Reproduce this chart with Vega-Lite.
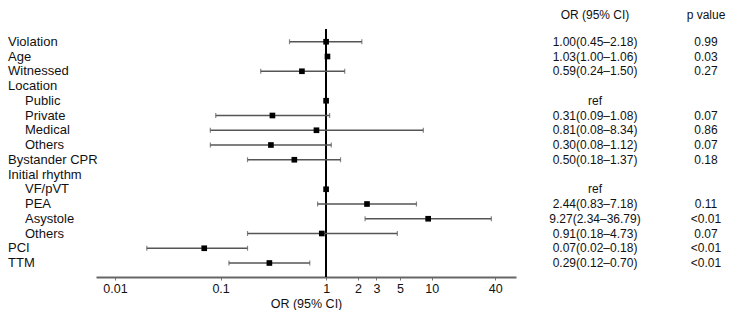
{
  "$schema": "https://vega.github.io/schema/vega-lite/v6.json",
  "width": 733,
  "height": 277,
  "padding": 0,
  "autosize": {"type": "pad"},
  "config": {
    "font": "Liberation Sans",
    "view": {"stroke": null},
    "axis": {
      "grid": false,
      "labelFontSize": 12.5,
      "titleFontSize": 12.5,
      "titleFontWeight": "normal",
      "labelColor": "#111",
      "titleColor": "#111",
      "domainColor": "#666",
      "domainWidth": 2,
      "tickColor": "#777",
      "tickSize": 3,
      "labelPadding": 2,
      "titlePadding": 3,
      "labelFlush": false
    },
    "text": {"font": "Liberation Sans", "fontSize": 12, "color": "#111"}
  },
  "data": {
    "values": [
      {"row": 1, "label": "Violation", "level": 0, "or": 1.00, "lo": 0.45, "hi": 2.18, "ci": "1.00(0.45–2.18)", "p": "0.99"},
      {"row": 2, "label": "Age", "level": 0, "or": 1.03, "lo": 1.00, "hi": 1.06, "ci": "1.03(1.00–1.06)", "p": "0.03"},
      {"row": 3, "label": "Witnessed", "level": 0, "or": 0.59, "lo": 0.24, "hi": 1.50, "ci": "0.59(0.24–1.50)", "p": "0.27"},
      {"row": 4, "label": "Location", "level": 0, "or": null, "lo": null, "hi": null, "ci": "", "p": ""},
      {"row": 5, "label": "Public", "level": 1, "or": 1.00, "lo": null, "hi": null, "ci": "ref", "p": ""},
      {"row": 6, "label": "Private", "level": 1, "or": 0.31, "lo": 0.09, "hi": 1.08, "ci": "0.31(0.09–1.08)", "p": "0.07"},
      {"row": 7, "label": "Medical", "level": 1, "or": 0.81, "lo": 0.08, "hi": 8.34, "ci": "0.81(0.08–8.34)", "p": "0.86"},
      {"row": 8, "label": "Others", "level": 1, "or": 0.30, "lo": 0.08, "hi": 1.12, "ci": "0.30(0.08–1.12)", "p": "0.07"},
      {"row": 9, "label": "Bystander CPR", "level": 0, "or": 0.50, "lo": 0.18, "hi": 1.37, "ci": "0.50(0.18–1.37)", "p": "0.18"},
      {"row": 10, "label": "Initial rhythm", "level": 0, "or": null, "lo": null, "hi": null, "ci": "", "p": ""},
      {"row": 11, "label": "VF/pVT", "level": 1, "or": 1.00, "lo": null, "hi": null, "ci": "ref", "p": ""},
      {"row": 12, "label": "PEA", "level": 1, "or": 2.44, "lo": 0.83, "hi": 7.18, "ci": "2.44(0.83–7.18)", "p": "0.11"},
      {"row": 13, "label": "Asystole", "level": 1, "or": 9.27, "lo": 2.34, "hi": 36.79, "ci": "9.27(2.34–36.79)", "p": "<0.01"},
      {"row": 14, "label": "Others", "level": 1, "or": 0.91, "lo": 0.18, "hi": 4.73, "ci": "0.91(0.18–4.73)", "p": "0.07"},
      {"row": 15, "label": "PCI", "level": 0, "or": 0.07, "lo": 0.02, "hi": 0.18, "ci": "0.07(0.02–0.18)", "p": "<0.01"},
      {"row": 16, "label": "TTM", "level": 0, "or": 0.29, "lo": 0.12, "hi": 0.70, "ci": "0.29(0.12–0.70)", "p": "<0.01"}
    ]
  },
  "encoding": {
    "y": {
      "field": "row",
      "type": "ordinal",
      "scale": {"type": "point", "domain": [0,1,2,3,4,5,6,7,8,9,10,11,12,13,14,15,16], "range": [27, 263], "padding": 0},
      "axis": null
    }
  },
  "layer": [
    {
      "layer": [
        {
          "mark": {"type": "rule", "color": "#000", "strokeWidth": 1.5, "yOffset": 2},
          "encoding": {
            "x": {"datum": 1, "type": "quantitative", "scale": {"type": "log", "domain": [0.0066, 63], "range": [96, 516], "nice": false},
                  "axis": {"values": [0.01, 0.1, 1, 2, 3, 5, 10, 40], "format": "~g", "title": "OR (95% CI)", "orient": "bottom"}},
            "y": {"datum": 0},
            "y2": {"value": "height"}
          }
        },
        {
          "transform": [{"filter": "isValid(datum.lo)"}],
          "mark": {"type": "rule", "color": "#555", "strokeWidth": 1.3},
          "encoding": {
            "x": {"field": "lo", "type": "quantitative", "scale": {"type": "log", "domain": [0.0066, 63], "range": [96, 516], "nice": false},
                  "axis": {"values": [0.01, 0.1, 1, 2, 3, 5, 10, 40], "format": "~g", "title": "OR (95% CI)", "orient": "bottom"}},
            "x2": {"field": "hi"}
          }
        },
        {
          "transform": [{"filter": "isValid(datum.lo)"}],
          "mark": {"type": "tick", "color": "#555", "size": 5, "thickness": 1.2},
          "encoding": {
            "x": {"field": "lo", "type": "quantitative", "scale": {"type": "log", "domain": [0.0066, 63], "range": [96, 516], "nice": false},
                  "axis": {"values": [0.01, 0.1, 1, 2, 3, 5, 10, 40], "format": "~g", "title": "OR (95% CI)", "orient": "bottom"}}
          }
        },
        {
          "transform": [{"filter": "isValid(datum.hi)"}],
          "mark": {"type": "tick", "color": "#555", "size": 5, "thickness": 1.2},
          "encoding": {
            "x": {"field": "hi", "type": "quantitative", "scale": {"type": "log", "domain": [0.0066, 63], "range": [96, 516], "nice": false},
                  "axis": {"values": [0.01, 0.1, 1, 2, 3, 5, 10, 40], "format": "~g", "title": "OR (95% CI)", "orient": "bottom"}}
          }
        },
        {
          "transform": [{"filter": "isValid(datum.or)"}],
          "mark": {"type": "point", "shape": "square", "filled": true, "color": "#000", "size": 32, "opacity": 1},
          "encoding": {
            "x": {"field": "or", "type": "quantitative", "scale": {"type": "log", "domain": [0.0066, 63], "range": [96, 516], "nice": false},
                  "axis": {"values": [0.01, 0.1, 1, 2, 3, 5, 10, 40], "format": "~g", "title": "OR (95% CI)", "orient": "bottom"}}
          }
        }
      ]
    },
    {
      "mark": {"type": "text", "align": "left", "baseline": "middle", "fontSize": 13},
      "encoding": {
        "x": {"field": "level", "type": "quantitative", "scale": {"domain": [0, 1], "range": [8, 25], "nice": false, "zero": false}, "axis": null},
        "text": {"field": "label"}
      }
    },
    {
      "mark": {"type": "text", "align": "center", "baseline": "middle"},
      "encoding": {
        "x": {"datum": "ci", "type": "nominal", "scale": {"type": "point", "domain": ["ci", "p"], "range": [595, 706], "padding": 0}, "axis": null},
        "text": {"field": "ci"}
      }
    },
    {
      "mark": {"type": "text", "align": "center", "baseline": "middle"},
      "encoding": {
        "x": {"datum": "p", "type": "nominal", "scale": {"type": "point", "domain": ["ci", "p"], "range": [595, 706], "padding": 0}, "axis": null},
        "text": {"field": "p"}
      }
    },
    {
      "data": {"values": [
        {"row": 0, "col": "ci", "head": "OR (95% CI)"},
        {"row": 0, "col": "p", "head": "p value"}
      ]},
      "mark": {"type": "text", "align": "center", "baseline": "middle", "dy": -12},
      "encoding": {
        "x": {"field": "col", "type": "nominal", "scale": {"type": "point", "domain": ["ci", "p"], "range": [595, 706], "padding": 0}, "axis": null},
        "text": {"field": "head"}
      }
    }
  ],
  "resolve": {"scale": {"x": "independent"}}
}
